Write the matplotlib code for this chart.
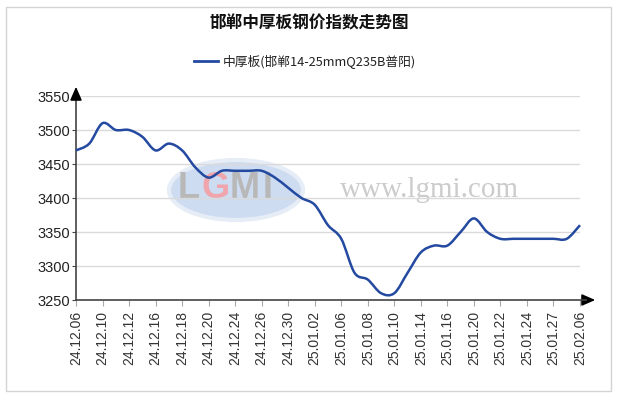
import matplotlib
matplotlib.use("Agg")
import matplotlib.pyplot as plt
import numpy as np
from matplotlib.path import Path
from matplotlib.patches import PathPatch, Ellipse, Rectangle
from matplotlib.lines import Line2D

plt.rcParams['font.family'] = ['Liberation Sans', 'Noto Sans CJK SC', 'DejaVu Sans']

title = "邯郸中厚板钢价指数走势图"
series_name = "中厚板(邯郸14-25mmQ235B普阳)"

dates = ["24.12.06", "24.12.09", "24.12.10", "24.12.11", "24.12.12", "24.12.13",
         "24.12.16", "24.12.17", "24.12.18", "24.12.19", "24.12.20", "24.12.23",
         "24.12.24", "24.12.25", "24.12.26", "24.12.27", "24.12.30", "24.12.31",
         "25.01.02", "25.01.03", "25.01.06", "25.01.07", "25.01.08", "25.01.09",
         "25.01.10", "25.01.13", "25.01.14", "25.01.15", "25.01.16", "25.01.17",
         "25.01.20", "25.01.21", "25.01.22", "25.01.23", "25.01.24", "25.01.26",
         "25.01.27", "25.02.05", "25.02.06"]
prices = [3470, 3480, 3510, 3500, 3500, 3490, 3470, 3480, 3470, 3445,
          3430, 3440, 3440, 3440, 3440, 3430, 3415, 3400, 3390, 3360,
          3340, 3290, 3280, 3260, 3260, 3290, 3320, 3330, 3330, 3350,
          3370, 3350, 3340, 3340, 3340, 3340, 3340, 3340, 3360]
yticks = [3250, 3300, 3350, 3400, 3450, 3500, 3550]

W, H = 617, 399
fig = plt.figure(figsize=(W / 100, H / 100), dpi=100)
fig.patch.set_facecolor("white")

def fx(px):
    return px / W

def fy(py):
    return 1 - py / H

# outer border
fig.add_artist(Rectangle((fx(6), fy(391)), 605 / W, 384 / H, transform=fig.transFigure,
                         fill=False, edgecolor="#d4d4d4", linewidth=1.0))

x0, x1 = 76, 580
y0, y1 = 96, 300
ax = fig.add_axes([fx(x0), fy(y1), (x1 - x0) / W, (y1 - y0) / H])
ax.set_zorder(2)
ax.patch.set_alpha(0)
n = len(prices)
ax.set_xlim(0, n - 1)
ax.set_ylim(3250, 3550)

for s in ["top", "right", "bottom"]:
    ax.spines[s].set_visible(False)
ax.spines["left"].set_color("#444444")
ax.spines["left"].set_linewidth(1.2)

ax.set_yticks(yticks)
ax.set_yticklabels([str(v) for v in yticks], fontsize=10.5, color="#222222")
ax.tick_params(axis="y", length=3, width=0.8, color="#444444", pad=1)
ax.yaxis.grid(True, color="#dadada", linewidth=1.0)
ax.set_axisbelow(True)

idx = list(range(0, n, 2))
ax.set_xticks(idx)
ax.set_xticklabels([dates[i] for i in idx], rotation=90, fontsize=10, color="#333333")
ax.tick_params(axis="x", length=4, width=0.8, color="#aaaaaa", pad=4)

# watermark (behind the axes content)
fig.add_artist(Ellipse((fx(236), fy(190)), 134 / W, 60 / H, transform=fig.transFigure,
                       facecolor="#cddcf0", edgecolor="#e6edf7", linewidth=3, zorder=0.5))
for ch, px, col in [("L", 178, "#b8b8b8"), ("G", 201, "#f0a4ac"),
                    ("M", 230, "#b8b8b8"), ("I", 263, "#b8b8b8")]:
    fig.text(fx(px), fy(188), ch, fontsize=26, color=col, fontweight="bold",
             va="center", ha="left", family="Liberation Sans", zorder=0.6)
fig.text(fx(340), fy(190), "www.lgmi.com", fontsize=21, color="#cccccc",
         va="center", ha="left", family="Liberation Serif", zorder=0.6)

# smoothed line (Catmull-Rom as Bezier)
xs = np.arange(n, dtype=float)
ys = np.array(prices, dtype=float)
P = np.column_stack([xs, ys])
verts = [tuple(P[0])]
codes = [Path.MOVETO]
for i in range(n - 1):
    pm = P[i - 1] if i > 0 else P[i]
    p2 = P[i + 2] if i + 2 < n else P[i + 1]
    c1 = P[i] + (P[i + 1] - pm) / 6.0
    c2 = P[i + 1] - (p2 - P[i]) / 6.0
    verts += [tuple(c1), tuple(c2), tuple(P[i + 1])]
    codes += [Path.CURVE4] * 3
ax.add_patch(PathPatch(Path(verts, codes), facecolor="none", edgecolor="#2449a0",
                       linewidth=1.8, zorder=5, clip_on=False))

# axis lines and arrows
fig.add_artist(Line2D([fx(x0), fx(586)], [fy(y1), fy(y1)],
                      transform=fig.transFigure, color="#444444", lw=1.2, zorder=3))
ax.annotate("", xy=(fx(x0), fy(84)), xytext=(fx(x0), fy(97)), xycoords="figure fraction",
            arrowprops=dict(arrowstyle="-|>,head_length=0.8,head_width=0.35", color="black", lw=1.2),
            annotation_clip=False)
ax.annotate("", xy=(fx(598), fy(y1)), xytext=(fx(579), fy(y1)), xycoords="figure fraction",
            arrowprops=dict(arrowstyle="-|>,head_length=0.8,head_width=0.35", color="black", lw=1.2),
            annotation_clip=False)

# title and legend
fig.text(fx(309), fy(23), title, fontsize=12, fontweight="bold", ha="center", va="center",
         family=["Noto Sans CJK SC", "DejaVu Sans"], color="#111111")
fig.add_artist(Line2D([fx(194), fx(218)], [fy(61), fy(61)],
                      transform=fig.transFigure, color="#2449a0", lw=2))
fig.text(fx(223), fy(61), series_name, fontsize=9.2, ha="left", va="center",
         family=["Noto Sans CJK SC", "DejaVu Sans"], color="#222222")

fig.savefig("out.png", dpi=100, facecolor="white")
